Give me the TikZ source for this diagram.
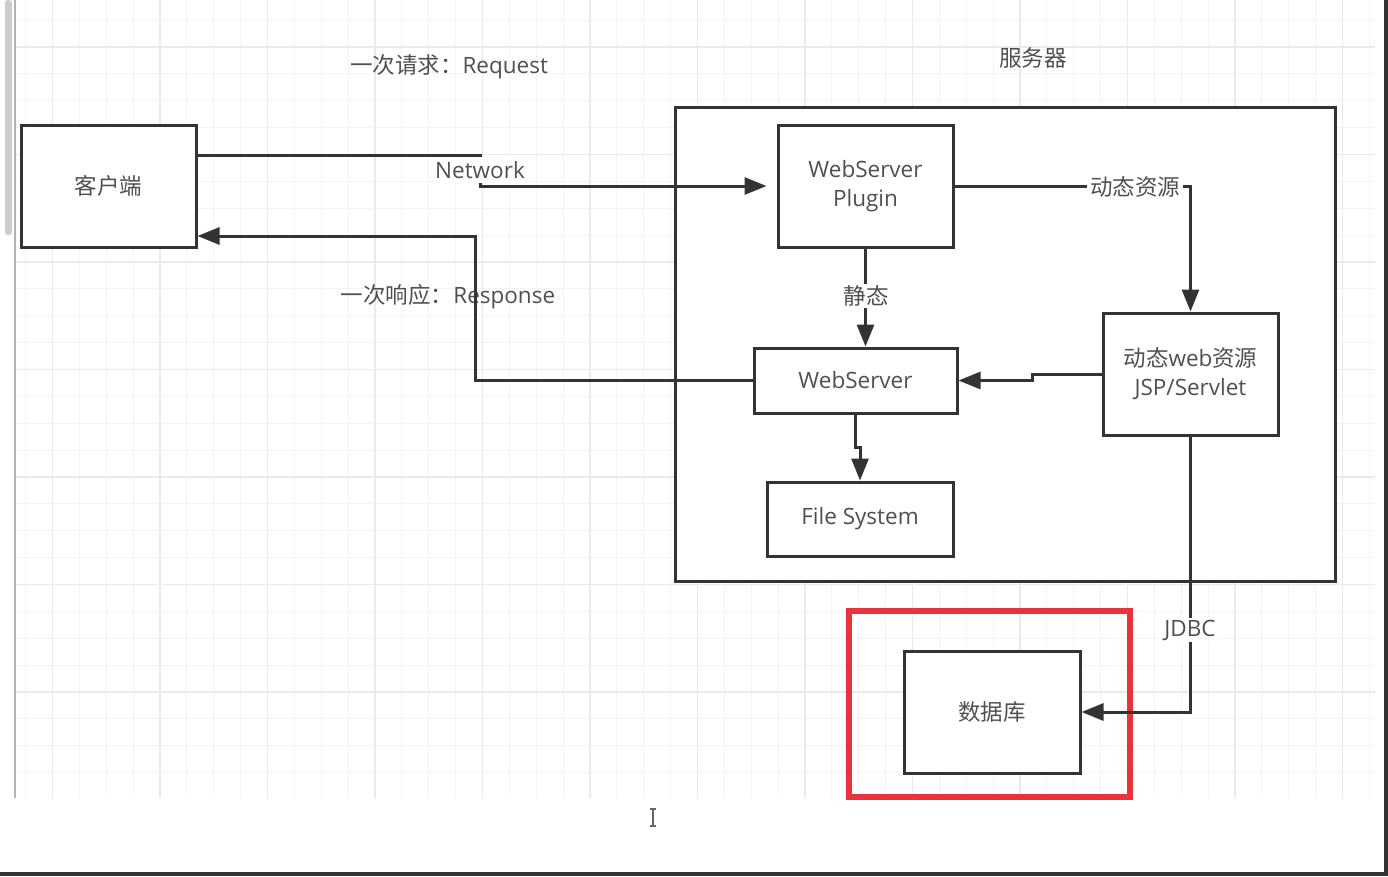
\documentclass[tikz,border=0pt]{standalone}
\usepackage{fontspec}
\setmainfont{Open Sans}
\newfontfamily\cjk{Noto Sans CJK SC}
\usetikzlibrary{arrows.meta}
\definecolor{boxc}{HTML}{333333}
\definecolor{txtc}{HTML}{505050}
\definecolor{gridminor}{HTML}{F4F4F4}
\definecolor{gridmajor}{HTML}{EAEAEA}
\definecolor{redc}{HTML}{E8323C}
\newcommand\fsz{\fontsize{22.5}{29}\selectfont}
\tikzset{
  box/.style={draw=boxc, line width=3pt, fill=white, text=txtc, inner sep=0pt, align=center, font=\fsz},
  conn/.style={draw=boxc, line width=3pt, -{Triangle[length=22pt,width=17pt]}},
  lbl/.style={text=txtc, font=\fsz, inner sep=1pt},
  lblw/.style={lbl, fill=white, inner xsep=3pt, inner ysep=2pt},
}
\begin{document}
\begin{tikzpicture}[x=1pt,y=-1pt]
\useasboundingbox (0,0) rectangle (1388,876);
\fill[white] (0,0) rectangle (1388,876);
% grid
\begin{scope}
  \clip (15,0) rectangle (1375,798);
  \foreach \i in {0,...,50} {\draw[gridminor, line width=1pt] ({25.625+\i*26.875},0) -- ({25.625+\i*26.875},798);}
  \foreach \i in {0,...,29} {\draw[gridminor, line width=1pt] (15,{20.125+\i*26.875}) -- (1375,{20.125+\i*26.875});}
  \foreach \i in {0,...,12} {\draw[gridmajor, line width=1.2pt] ({52.5+\i*107.5},0) -- ({52.5+\i*107.5},798);}
  \foreach \i in {0,...,7} {\draw[gridmajor, line width=1.2pt] (15,{47+\i*107.5}) -- (1375,{47+\i*107.5});}
\end{scope}
% window chrome
\draw[black!30, line width=1.5pt] (15,0) -- (15,798);
\fill[black!20, rounded corners=3pt] (5,0) rectangle (12,235);
\fill[boxc] (1384,0) rectangle (1388,876);
\fill[boxc] (0,872) rectangle (1388,876);
% text cursor
\draw[black!60, line width=1.2pt] (653,809) -- (653,826) (650,809) -- (656,809) (650,826) -- (656,826);

% server container
\node[box, minimum width=660pt, minimum height=474pt] (server) at (1005,344) {};
% red highlight
\draw[redc, line width=6pt] (849,611) rectangle (1130,797);

% nodes
\node[box, minimum width=175pt, minimum height=122pt] (client) at (108.5,186) {\cjk 客户端};
\node[box, minimum width=175pt, minimum height=122pt] (plugin) at (865.5,186) {WebServer\\Plugin};
\node[box, minimum width=175pt, minimum height=122pt] (dyn) at (1190.5,374) {{\cjk 动态}web{\cjk 资源}\\JSP/Servlet};
\node[box, minimum width=203pt, minimum height=65pt] (ws) at (855.5,380.5) {WebServer};
\node[box, minimum width=186pt, minimum height=74pt] (fs) at (860,519) {File System};
\node[box, minimum width=176pt, minimum height=122pt] (db) at (992,712) {\cjk 数据库};

% free labels
\node[lbl] (reqlbl) at (449,67) {{\cjk 一次请求：}Request};
\node[lbl] (reslbl) at (448,297) {{\cjk 一次响应：}Response};
\node[lbl] (srvlbl) at (1033,58) {\cjk 服务器};

% coordinates
\coordinate (n1) at (480,155);
\coordinate (r1) at (475,236);
\coordinate (j1) at (1032,0);
\coordinate (f1) at (0,447);

% connectors
\draw[conn, shorten >=10pt] (client.east |- n1) -- (n1) -- (n1 |- plugin.west) -- (plugin.west);
\node[fill=white, text=txtc, font=\fsz, inner xsep=2pt, inner ysep=0pt, text height=21pt, text depth=5pt] (netlbl) at (480,170) {Network};

\draw[conn] (plugin.east) -- (dyn.north |- plugin.east) -- (dyn.north);
\node[lblw] (dynlbl) at (1135,187) {\cjk 动态资源};

\draw[conn] (plugin.south) -- (plugin.south |- ws.north);
\node[lblw] (statlbl) at (866,296) {\cjk 静态};

\draw[conn] (dyn.west) -- (j1 |- dyn.west) -- (j1 |- ws.east) -- (ws.east);

\draw[conn] (ws.west) -- (r1 |- ws.west) -- (r1) -- (client.east |- r1);

\draw[conn] (ws.south) -- (ws.south |- f1) -- (fs.north |- f1) -- (fs.north);

\draw[conn] (dyn.south) -- (dyn.south |- db.east) -- (db.east);
\node[lblw] (jdbclbl) at (1190,630) {JDBC};
\end{tikzpicture}
\end{document}
